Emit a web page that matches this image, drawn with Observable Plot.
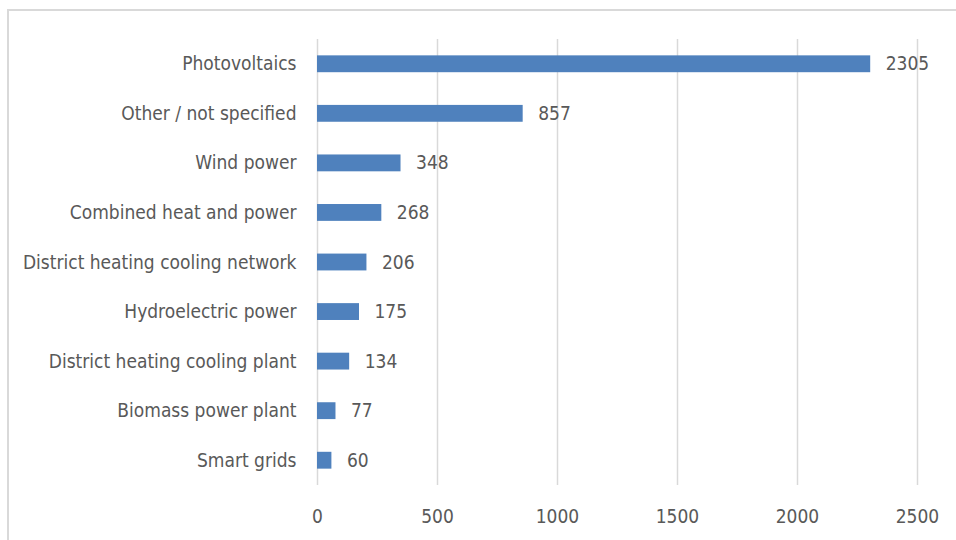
<!DOCTYPE html>
<html>
<head>
<meta charset="utf-8">
<script src="https://cdn.jsdelivr.net/npm/d3@7"></script>
<script src="https://cdn.jsdelivr.net/npm/@observablehq/plot@0.6"></script>
<style>
  html, body { margin: 0; padding: 0; background: #fff; }
  #wrap { position: relative; width: 956px; height: 540px; overflow: hidden; }
  #frame { position: absolute; left: 7px; top: 9px; width: 1000px; height: 600px;
           border-left: 2px solid #d9d9d9; border-top: 2px solid #d9d9d9; box-sizing: border-box; }
  #chart { position: absolute; left: 0; top: 0; }
</style>
</head>
<body>
<div id="wrap"><div id="frame"></div><div id="chart"></div></div>
<script>
const categories = [
  "Photovoltaics",
  "Other / not specified",
  "Wind power",
  "Combined heat and power",
  "District heating cooling network",
  "Hydroelectric power",
  "District heating cooling plant",
  "Biomass power plant",
  "Smart grids"
];
const values = [2305, 857, 348, 268, 206, 175, 134, 77, 60];
const xTicks = [0, 500, 1000, 1500, 2000, 2500];

const data = categories.map((c, i) => ({category: c, value: values[i]}));
const font = "'DejaVu Sans Condensed', sans-serif";

const chart = Plot.plot({
  width: 956,
  height: 540,
  marginLeft: 317,
  marginRight: 39,
  marginTop: 39,
  marginBottom: 55,
  style: {fontFamily: font, fontSize: "19px", color: "#595959", background: "transparent"},
  x: {domain: [0, 2500], ticks: xTicks},
  y: {domain: categories, paddingInner: 0.66, paddingOuter: 0.33, round: false},
  marks: [
    Plot.ruleX(xTicks, {stroke: "#d9d9d9", strokeWidth: 1.5, strokeOpacity: 1}),
    Plot.barX(data, {x: "value", y: "category", fill: "#4f81bd"}),
    Plot.text(data, {x: "value", y: "category", text: d => String(d.value), textAnchor: "start", dx: 15, fill: "#595959", fontSize: 19}),
    Plot.axisX({ticks: xTicks, tickSize: 0, tickPadding: 24, tickFormat: d => String(d), label: null, fill: "#595959", fontSize: 19}),
    Plot.axisY({tickSize: 0, tickPadding: 21, label: null, fill: "#595959", fontSize: 19})
  ]
});
document.getElementById("chart").appendChild(chart);
</script>
</body>
</html>
